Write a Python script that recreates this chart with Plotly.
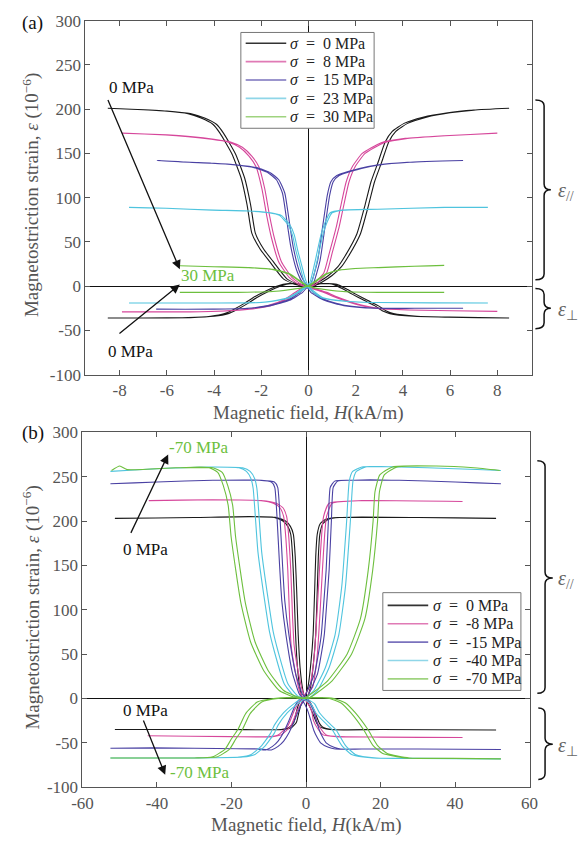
import plotly.graph_objects as go

W, HPX = 584, 851
FONT = "Liberation Serif"
COLORS = ["#1a1a1a", "#d6479b", "#4a41a3", "#4fc4de", "#6dbf3e"]
LEG_COLORS = ["#333333", "#e07ab5", "#7a72bd", "#8fd6e8", "#9fd37f"]

# ======================= Panel (a): tensile stress =======================
stress_a = ["0", "8", "15", "23", "30"]
xticks_a = [-8, -6, -4, -2, 0, 2, 4, 6, 8]
yticks = [-100, -50, 0, 50, 100, 150, 200, 250, 300]

# sigma = 0 MPa
a0_par_E = [201, 200, 198, 195, 190, 183, 173, 150, 122, 92, 60, 42, 28, 8, 2, 0, 0, 5, 12, 22, 34, 59, 92, 118, 140, 163, 175, 184, 191, 196, 199, 201]
a0_par_H1 = [-8.5, -7.5, -6, -5, -4.4, -3.9, -3.6, -3.1, -2.7, -2.45, -2.25, -1.9, -1.5, -0.9, -0.4, 0, 0.2, 0.6, 1.0, 1.4, 1.7, 2.2, 2.55, 2.8, 3.1, 3.4, 3.7, 4.2, 5, 6, 7, 8.5]
a0_par_H2 = [-8.5, -7.5, -6.1, -5.1, -4.55, -4.05, -3.75, -3.25, -2.85, -2.6, -2.4, -2.05, -1.65, -1.05, -0.55, -0.15, 0.05, 0.45, 0.85, 1.25, 1.55, 2.05, 2.4, 2.65, 2.95, 3.25, 3.55, 4.05, 4.85, 5.9, 7, 8.5]
a0_per_E = [-36, -36, -35.5, -34, -31, -26, -20, -13, -6, 0, 3, 2, 0, 2, 3, 2, -3, -9, -16, -22, -28, -31, -34, -35, -36]
a0_per_H1 = [-8.5, -7, -5, -4, -3.4, -3.0, -2.6, -2.2, -1.7, -1.2, -0.7, -0.3, 0, 0.3, 0.8, 1.2, 1.6, 2.0, 2.5, 2.95, 3.3, 3.6, 4.6, 6, 8.5]
a0_per_H2 = [-8.5, -7, -5.1, -4.15, -3.55, -3.15, -2.75, -2.35, -1.85, -1.35, -0.85, -0.45, -0.15, 0.15, 0.65, 1.05, 1.45, 1.85, 2.35, 2.8, 3.15, 3.45, 4.45, 5.9, 8.5]
# sigma = 8 MPa
a8_par_E = [173, 171, 169, 166, 163, 157, 147, 135, 110, 80, 55, 28, 10, 2, 0, 2, 15, 37, 67, 92, 118, 136, 150, 162, 167, 170, 173]
a8_par_H1 = [-7.9, -6, -5, -4, -3.3, -2.8, -2.4, -2.1, -1.85, -1.65, -1.45, -1.15, -0.7, -0.3, 0, 0.3, 0.77, 1.0, 1.3, 1.5, 1.72, 2.0, 2.4, 3.2, 4.2, 5.8, 8.0]
a8_par_H2 = [-7.9, -6.05, -5.1, -4.12, -3.42, -2.92, -2.52, -2.22, -1.97, -1.77, -1.57, -1.27, -0.82, -0.42, -0.12, 0.18, 0.65, 0.88, 1.18, 1.38, 1.6, 1.88, 2.28, 3.08, 4.1, 5.75, 8.0]
a8_per_E = [-29, -29, -28, -26, -22, -15, -8, -3, 0, -2, -7, -12, -16, -21, -25, -27, -28.5]
a8_per_H1 = [-7.9, -5, -3.5, -2.5, -1.6, -0.9, -0.5, -0.2, 0, 0.2, 0.77, 1.2, 1.6, 2.2, 2.95, 4.3, 8.0]
a8_per_H2 = [-7.9, -5.1, -3.62, -2.62, -1.72, -1.02, -0.62, -0.32, -0.12, 0.08, 0.65, 1.08, 1.48, 2.08, 2.83, 4.2, 8.0]
# sigma = 15 MPa
a15_par_E = [142, 140, 139, 137, 134, 128, 120, 105, 80, 45, 18, 4, 0, 3, 29, 67, 103, 118, 125, 133, 137, 140, 142]
a15_par_H1 = [-6.4, -5, -4, -3, -2.2, -1.6, -1.25, -1.0, -0.85, -0.65, -0.4, -0.15, 0, 0.2, 0.49, 0.7, 0.9, 1.05, 1.3, 2.25, 3, 4.3, 6.55]
a15_par_H2 = [-6.4, -5.05, -4.1, -3.1, -2.3, -1.7, -1.35, -1.1, -0.95, -0.75, -0.5, -0.25, -0.1, 0.1, 0.39, 0.6, 0.8, 0.95, 1.2, 2.15, 2.9, 4.2, 6.55]
a15_per_E = [-26, -26, -25, -22, -16, -7, 0, -7, -16, -22, -25, -25, -25]
a15_per_H1 = [-6.45, -4, -2.5, -1.6, -0.8, -0.25, 0, 0.2, 0.77, 1.6, 2.95, 4.5, 6.55]
a15_per_H2 = [-6.45, -4.05, -2.6, -1.7, -0.9, -0.35, -0.1, 0.1, 0.67, 1.5, 2.85, 4.45, 6.55]
# sigma = 23 MPa
a23_par_E = [89, 88, 86, 85, 83, 80, 70, 58, 40, 25, 7, 0, 5, 29, 59, 73, 83, 86, 87, 89, 89]
a23_par_H1 = [-7.6, -6, -4, -2.5, -1.6, -1.15, -0.8, -0.6, -0.45, -0.3, -0.12, 0, 0.15, 0.37, 0.62, 0.8, 1.0, 1.5, 3, 5.8, 7.6]
a23_par_H2 = [-7.6, -6.05, -4.08, -2.58, -1.68, -1.23, -0.88, -0.68, -0.53, -0.38, -0.2, -0.08, 0.07, 0.29, 0.54, 0.72, 0.92, 1.42, 2.92, 5.75, 7.6]
a23_per_E = [-19, -19, -18.5, -17, -13, -7, 0, -5, -13, -17, -18.5, -19]
a23_per_H1 = [-7.6, -4, -2, -1.5, -0.8, -0.4, 0, 0.2, 0.62, 1.6, 3, 7.6]
a23_per_H2 = [-7.6, -4.08, -2.08, -1.58, -0.88, -0.48, -0.08, 0.12, 0.54, 1.52, 2.92, 7.6]
# sigma = 30 MPa
a30_par_E = [23, 22, 21, 19, 14, 7, 0, 5, 14, 18, 20, 21, 22.5, 23.5]
a30_par_H1 = [-5.45, -4, -2.5, -1.5, -0.8, -0.4, 0, 0.3, 0.8, 1.3, 2, 3, 4.5, 5.75]
a30_par_H2 = [-5.45, -4.05, -2.55, -1.55, -0.85, -0.45, -0.05, 0.25, 0.75, 1.25, 1.95, 2.95, 4.45, 5.75]
a30_per_E = [-7, -7, -6, -4, -2, 0, -2, -4, -6, -7, -7]
a30_per_H1 = [-5.45, -3, -1.5, -0.8, -0.3, 0, 0.3, 0.8, 1.5, 3, 5.75]
a30_per_H2 = [-5.45, -3.05, -1.55, -0.85, -0.35, -0.05, 0.25, 0.75, 1.45, 2.95, 5.75]

# ======================= Panel (b): compressive stress =======================
stress_b = ["0", "-8", "-15", "-40", "-70"]
xticks_b = [-60, -40, -20, 0, 20, 40, 60]

b0_par_E = [203, 204, 205, 204, 200, 194, 185, 160, 120, 72, 35, 13, 3, 0, 3, 15, 40, 72, 120, 160, 185, 197, 202, 204, 204, 203]
b0_par_H1 = [-51.3, -30, -15, -8, -5.5, -4.2, -3.4, -2.9, -2.5, -2.1, -1.6, -1.0, -0.5, 0, 0.5, 1.3, 2.0, 2.6, 3.0, 3.3, 3.7, 4.5, 6, 9, 30, 51]
b0_par_H2 = [-51.3, -30, -15, -8.5, -6.2, -4.9, -4.1, -3.6, -3.2, -2.8, -2.3, -1.7, -1.2, -0.7, -0.2, 0.6, 1.3, 1.9, 2.3, 2.6, 3.0, 3.8, 5.3, 8.5, 30, 51]
b0_per_E = [-35, -35, -35, -33, -27, -17, -9, -2, 0, -2, -10, -20, -28, -32, -35, -35, -35.5]
b0_per_H1 = [-51.3, -20, -6, -4, -2.6, -2.0, -1.5, -0.8, 0, 0.8, 1.8, 2.8, 3.6, 4.4, 7, 20, 51]
b0_per_H2 = [-51.3, -20, -6.7, -4.7, -3.3, -2.7, -2.2, -1.5, -0.7, 0.1, 1.1, 2.1, 2.9, 3.7, 6.3, 20, 51]

b8_par_E = [223, 224, 223, 220, 215, 205, 180, 145, 90, 60, 35, 9, 2, 0, 2, 8, 13, 30, 53, 100, 145, 185, 205, 220, 223, 222]
b8_par_H1 = [-42.2, -25, -12, -8, -6.2, -5.2, -4.6, -4.1, -3.6, -3.2, -2.3, -1.0, -0.3, 0, 0.3, 1.0, 1.8, 2.5, 3.1, 3.8, 4.4, 5.0, 5.5, 7, 15, 42]
b8_par_H2 = [-42.2, -25, -12, -8.8, -7.0, -6.0, -5.4, -4.9, -4.4, -4.0, -3.1, -1.8, -1.1, -0.8, -0.5, 0.2, 1.0, 1.7, 2.3, 3.0, 3.6, 4.2, 4.7, 6.2, 15, 42]
b8_per_E = [-42, -43, -43, -41, -31, -13, -4, 0, -4, -14, -25, -35, -41, -43, -43.5, -44]
b8_per_H1 = [-42.5, -20, -9, -6.7, -4.1, -2.3, -1, 0, 1, 2.3, 2.8, 4.1, 5.4, 9, 20, 42]
b8_per_H2 = [-42.5, -20, -9.8, -7.5, -4.9, -3.1, -1.8, -0.8, 0.2, 1.5, 2.0, 3.3, 4.6, 8.2, 20, 42]

b15_par_E = [242, 244, 246, 246, 244, 238, 205, 150, 110, 72, 28, 5, 0, 3, 12, 28, 55, 72, 110, 145, 200, 238, 245, 246, 246, 244, 242]
b15_par_H1 = [-52.5, -40, -25, -12, -8.5, -7.6, -7.0, -6.3, -5.7, -4.6, -2.8, -1.0, 0, 0.5, 1.5, 3.1, 4.3, 4.9, 5.6, 6.2, 6.8, 7.3, 8.5, 12, 25, 40, 52.3]
b15_par_H2 = [-52.5, -40, -25, -12.5, -9.3, -8.4, -7.8, -7.1, -6.5, -5.4, -3.6, -1.8, -0.8, -0.3, 0.7, 2.3, 3.5, 4.1, 4.8, 5.4, 6.0, 6.5, 7.7, 11.5, 25, 40, 52.3]
b15_per_E = [-56, -56, -57, -58, -54, -48, -38, -28, -9, -2, 0, -2, -12, -25, -36, -44, -50, -55, -57, -57, -57, -57.5]
b15_per_H1 = [-52.5, -30, -12, -9.3, -7.5, -6, -4.5, -3.4, -1.55, -0.5, 0, 0.5, 1.8, 2.8, 3.6, 4.5, 5.4, 7.5, 9.3, 15, 30, 52.3]
b15_per_H2 = [-52.5, -30, -13.3, -10.8, -9.0, -7.5, -6.0, -4.9, -3.05, -2.0, -1.5, -1.0, 0.3, 1.3, 2.1, 3.0, 3.9, 6.0, 7.8, 15, 30, 52.3]

b40_par_E = [256, 259, 261, 260, 256, 248, 237, 165, 110, 75, 53, 17, 3, 0, 1, 9, 35, 72, 127, 200, 245, 256, 261, 261, 259, 257]
b40_par_H1 = [-52.5, -40, -25, -17, -15, -13.8, -13.2, -11.9, -10.1, -8.8, -7.5, -4.9, -2.3, 0, 1, 3.1, 6.2, 8.8, 10.6, 11.9, 12.6, 13.5, 16, 25, 40, 52.3]
b40_par_H2 = [-52.5, -40, -25, -18, -16, -14.8, -14.2, -12.9, -11.1, -9.8, -8.5, -5.9, -3.3, -1, 0, 2.1, 5.2, 7.8, 9.6, 10.9, 11.6, 12.5, 15, 25, 40, 52.3]
b40_per_E = [-67, -67, -66, -63, -54, -39, -30, -16, -6, 0, -1, -6, -16, -27, -35, -53, -63, -67, -67.5, -68]
b40_per_H1 = [-52.5, -30, -17, -13.7, -11.1, -8.5, -7.5, -5, -2.3, 0, 0.5, 2.3, 3.6, 6, 8, 10.6, 13.2, 19, 30, 52.3]
b40_per_H2 = [-52.5, -30, -18, -14.7, -12.1, -9.5, -8.5, -6, -3.3, -1, -0.5, 1.3, 2.6, 5, 7, 9.6, 12.2, 18, 30, 52.3]

b70_par_E = [257, 262, 258, 260, 260, 255, 240, 218, 182, 108, 64, 31, 9, 2, 0, 1, 6, 20, 50, 90, 145, 200, 233, 252, 261, 262, 260, 257]
b70_par_H1 = [-52.2, -50, -48, -35, -25, -22.5, -21, -19.7, -18.9, -16.3, -13.7, -10.1, -6, -2.3, 0, 1, 2.8, 7, 12.2, 15.8, 17.9, 19.2, 19.7, 21, 24.4, 35, 45, 52]
b70_par_H2 = [-52.2, -50, -48, -35, -26, -23.7, -22.2, -20.9, -20.1, -17.5, -14.9, -11.3, -7.2, -3.5, -1.2, -0.2, 1.6, 5.8, 11, 14.6, 16.7, 18, 18.5, 19.8, 23.2, 35, 45, 52]
b70_per_E = [-67, -67, -66, -57, -46, -35, -17, -4, 0, 1, 0, 1, 0, -5, -16, -35, -53, -62, -67, -67.5, -68]
b70_per_H1 = [-52.5, -30, -24, -20.5, -18.9, -17.1, -15, -11.9, -7.5, -3, 0, 3, 7.5, 10.6, 13.2, 16.6, 19.2, 21.8, 27.7, 40, 52.3]
b70_per_H2 = [-52.5, -30, -25.2, -21.7, -20.1, -18.3, -16.2, -13.1, -8.7, -4.2, -1.2, 1.8, 6.3, 9.4, 12, 15.4, 18, 20.6, 26.5, 40, 52.3]

curves_a = [
    (a0_par_H1, a0_par_H2, a0_par_E, a0_per_H1, a0_per_H2, a0_per_E),
    (a8_par_H1, a8_par_H2, a8_par_E, a8_per_H1, a8_per_H2, a8_per_E),
    (a15_par_H1, a15_par_H2, a15_par_E, a15_per_H1, a15_per_H2, a15_per_E),
    (a23_par_H1, a23_par_H2, a23_par_E, a23_per_H1, a23_per_H2, a23_per_E),
    (a30_par_H1, a30_par_H2, a30_par_E, a30_per_H1, a30_per_H2, a30_per_E),
]
curves_b = [
    (b0_par_H1, b0_par_H2, b0_par_E, b0_per_H1, b0_per_H2, b0_per_E),
    (b8_par_H1, b8_par_H2, b8_par_E, b8_per_H1, b8_per_H2, b8_per_E),
    (b15_par_H1, b15_par_H2, b15_par_E, b15_per_H1, b15_per_H2, b15_per_E),
    (b40_par_H1, b40_par_H2, b40_par_E, b40_per_H1, b40_per_H2, b40_per_E),
    (b70_par_H1, b70_par_H2, b70_par_E, b70_per_H1, b70_per_H2, b70_per_E),
]


def loop(h1, h2, e):
    assert len(h1) == len(h2) == len(e), (len(h1), len(h2), len(e))
    return list(h1) + list(h2)[::-1], list(e) + list(e)[::-1]


SP = "\u2002"
fig = go.Figure()
for panel, curves, labels, xa, ya in [
    ("a", curves_a, stress_a, "x", "y"),
    ("b", curves_b, stress_b, "x2", "y2"),
]:
    for i, (ph1, ph2, pe, qh1, qh2, qe) in enumerate(curves):
        for j, (h1, h2, e) in enumerate([(ph1, ph2, pe), (qh1, qh2, qe)]):
            x, y = loop(h1, h2, e)
            fig.add_trace(go.Scatter(
                x=x, y=y, mode="lines", xaxis=xa, yaxis=ya,
                name=f"σ = {labels[i]} MPa", showlegend=False,
                line=dict(color=COLORS[i], width=1.1, shape="spline", smoothing=0.5),
                hoverinfo="skip"))


def px(x):
    return x / W


def py(y):
    return 1 - y / HPX


axis_common = dict(
    showline=True, linecolor="#555", linewidth=1, mirror="ticks",
    ticks="inside", ticklen=5, tickcolor="#555", showgrid=False,
    zeroline=True, zerolinecolor="#111", zerolinewidth=1,
    tickfont=dict(family=FONT, size=17, color="#555"),
)

fig.update_layout(
    width=W, height=HPX, margin=dict(l=0, r=0, t=0, b=0),
    paper_bgcolor="white", plot_bgcolor="white", showlegend=False,
    font=dict(family=FONT, color="#222"),
    xaxis=dict(domain=[px(77), px(539)], anchor="y", range=[-9.45, 9.45],
               tickvals=xticks_a, ticktext=[str(v) for v in xticks_a], **axis_common),
    yaxis=dict(domain=[py(374), py(12)], anchor="x", range=[-100, 300],
               tickvals=yticks, ticktext=[str(v) for v in yticks], **axis_common),
    xaxis2=dict(domain=[px(74), px(537)], anchor="y2", range=[-60, 60],
                tickvals=xticks_b, ticktext=[str(v) for v in xticks_b], **axis_common),
    yaxis2=dict(domain=[py(796), py(433)], anchor="x2", range=[-100, 300],
                tickvals=yticks, ticktext=[str(v) for v in yticks], **axis_common),
)

ann = []
shapes = []
TITLE = dict(family=FONT, size=19, color="#555")
for xc, yc in [(308, 413), (306, 835)]:
    ann.append(dict(x=px(xc), y=py(yc), xref="paper", yref="paper", showarrow=False,
                    xanchor="center", yanchor="middle",
                    text="Magnetic field, <i>H</i>(kA/m)", font=TITLE))
for yc in [190, 612]:
    ann.append(dict(x=px(21), y=py(yc), xref="paper", yref="paper", showarrow=False,
                    xanchor="center", yanchor="middle", textangle=-90,
                    text="Magnetostriction strain, <i>ε</i> (10<sup>−6</sup>)", font=TITLE))
ann.append(dict(x=px(22), y=py(14), xref="paper", yref="paper", showarrow=False,
                xanchor="center", yanchor="middle",
                text="(a)", font=dict(family=FONT, size=19, color="#111")))
ann.append(dict(x=px(23), y=py(434), xref="paper", yref="paper", showarrow=False,
                xanchor="center", yanchor="middle",
                text="(b)", font=dict(family=FONT, size=19, color="#111")))

# legends (box, sample line, text) drawn in page pixels
legends = [  # (box x0, y0, x1, y1, line x0, line x1, text x, first row y, row step, labels)
    (238, 24, 376, 122, 243, 285, 287, 35, 18.8, stress_a),
    (385, 597, 528, 697, 390, 432, 435, 610, 18.8, stress_b),
]
for bx0, by0, bx1, by1, lx0, lx1, tx, ry0, dy, labs in legends:
    shapes.append(dict(type="rect", xref="paper", yref="paper",
                       x0=px(bx0), x1=px(bx1), y0=py(by1), y1=py(by0),
                       line=dict(color="#777", width=1), fillcolor="white", layer="above"))
    for i, lab in enumerate(labs):
        yy = ry0 + i * dy
        shapes.append(dict(type="line", xref="paper", yref="paper",
                           x0=px(lx0), x1=px(lx1), y0=py(yy), y1=py(yy),
                           line=dict(color=LEG_COLORS[i], width=1.6), layer="above"))
        ann.append(dict(x=px(tx), y=py(yy), xref="paper", yref="paper", showarrow=False,
                        xanchor="left", yanchor="middle",
                        text=f"<i>σ</i>{SP}={SP}{lab} MPa",
                        font=dict(family=FONT, size=16, color="#222")))

GREEN = COLORS[4]
LBL = 17


def arr(x, y, ax, ay, xr, yr):
    return dict(x=x, y=y, ax=ax, ay=ay, xref=xr, yref=yr, axref=xr, ayref=yr,
                showarrow=True, arrowhead=2, arrowsize=1.4, arrowwidth=1.3,
                arrowcolor="#111", text="")


def lbl(x, y, t, c, xr, yr):
    return dict(x=x, y=y, xref=xr, yref=yr, showarrow=False, text=t,
                xanchor="center", yanchor="middle",
                font=dict(family=FONT, size=LBL, color=c))


ann += [
    arr(-5.45, 19, -8.52, 212, "x", "y"),
    arr(-5.45, 2, -8.07, -55, "x", "y"),
    lbl(-7.5, 224, "0 MPa", "#111", "x", "y"),
    lbl(-4.26, 12, "30 MPa", GREEN, "x", "y"),
    lbl(-7.54, -74, "0 MPa", "#111", "x", "y"),
    arr(-37, 275, -47.2, 185, "x2", "y2"),
    arr(-37.8, -86, -43.8, -23, "x2", "y2"),
    lbl(-28.8, 283, "-70 MPa", GREEN, "x2", "y2"),
    lbl(-43, 168, "0 MPa", "#111", "x2", "y2"),
    lbl(-43, -13, "0 MPa", "#111", "x2", "y2"),
    lbl(-28.5, -83, "-70 MPa", GREEN, "x2", "y2"),
]

braces = [  # (x_hook, x_line, y_top, y_bottom, y_tip, x_tip, label)
    (543, 552, 93, 277, 185, 559, "<i>ε</i><sub>//</sub>"),
    (543, 552, 286, 327, 306, 559, "<i>ε</i><sub>⊥</sub>"),
    (545, 553, 462, 700, 582, 561, "<i>ε</i><sub>//</sub>"),
    (546, 553, 715, 788, 752, 561, "<i>ε</i><sub>⊥</sub>"),
]
for xh, xl, yt, yb, ym, xt, lab in braces:
    r = 6
    pts = (f"M {px(xh)},{py(yt)} Q {px(xl)},{py(yt)} {px(xl)},{py(yt + r)} "
           f"L {px(xl)},{py(ym - r)} Q {px(xl)},{py(ym)} {px(xt)},{py(ym)} "
           f"Q {px(xl)},{py(ym)} {px(xl)},{py(ym + r)} "
           f"L {px(xl)},{py(yb - r)} Q {px(xl)},{py(yb)} {px(xh)},{py(yb)}")
    shapes.append(dict(type="path", path=pts, xref="paper", yref="paper",
                       line=dict(color="#111", width=1.5)))
    ann.append(dict(x=px(564), y=py(ym + 2), xref="paper", yref="paper", showarrow=False,
                    xanchor="left", yanchor="middle", text=lab,
                    font=dict(family=FONT, size=20, color="#666")))

fig.update_layout(annotations=ann, shapes=shapes)
fig.write_html("out.html")
